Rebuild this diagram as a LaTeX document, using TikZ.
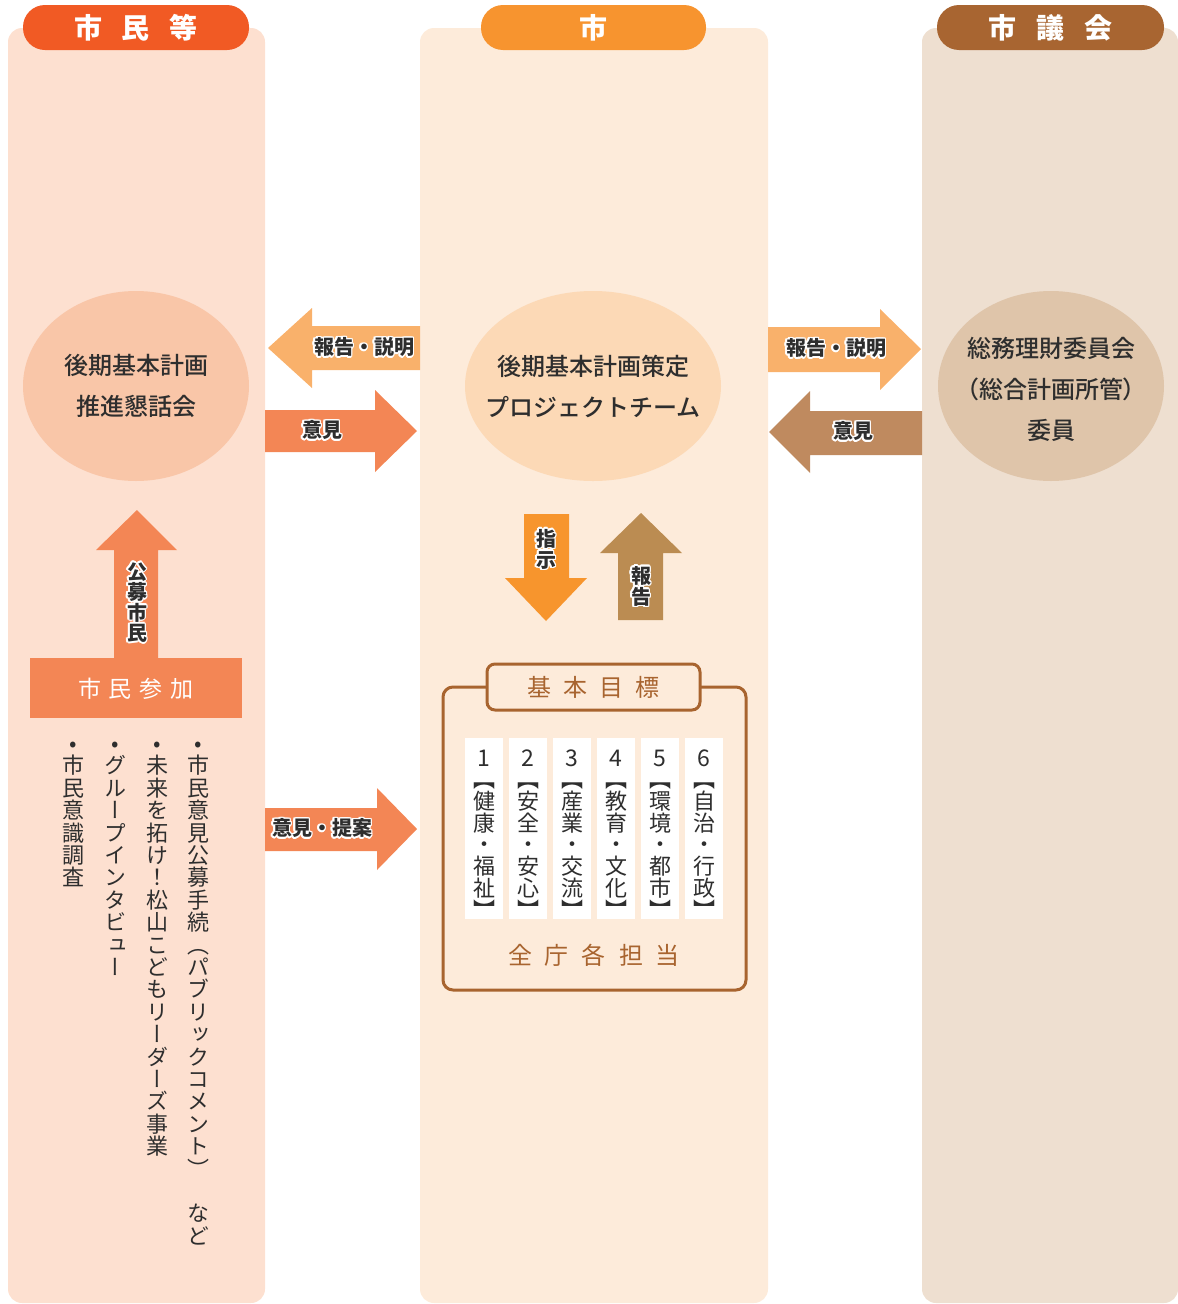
\documentclass[tikz,border=0pt]{standalone}
\usepackage{fontspec}
\setmainfont{Noto Sans CJK JP}
\newfontfamily\mediumfont{Noto Sans CJK JP Medium}
\newfontfamily\tatefont[RawFeature=+vert]{Noto Sans CJK JP}
\usepackage{contour}
\contourlength{1.6pt}
\contournumber{12}
\usetikzlibrary{shapes.geometric}

\definecolor{shiminbg}{HTML}{FDE0D0}
\definecolor{shibg}{HTML}{FDEBDA}
\definecolor{gikaibg}{HTML}{EEDFD0}
\definecolor{shiminhd}{HTML}{F15A24}
\definecolor{shihd}{HTML}{F7942F}
\definecolor{gikaihd}{HTML}{A86531}
\definecolor{shiminoval}{HTML}{F9C6A8}
\definecolor{shioval}{HTML}{FCD9B6}
\definecolor{gikaioval}{HTML}{DFC5AA}
\definecolor{lightarrow}{HTML}{F9B16B}
\definecolor{salmonarrow}{HTML}{F38655}
\definecolor{brownarrow}{HTML}{BF8A5F}
\definecolor{orangearrow}{HTML}{F7952D}
\definecolor{ocherarrow}{HTML}{BB8C52}
\definecolor{boxbrown}{HTML}{A8642F}
\definecolor{ink}{HTML}{2E2E2E}

\newcommand\tatestrut{\vrule height .88em depth .12em width 0pt}
\ExplSyntaxOn
% one character per line, for vertical text
\NewDocumentCommand\tate{O{1.05em}m}{
  \tl_set:Nx \l_tmpa_tl {#2}
  \vbox{\tatefont\baselineskip=#1\lineskiplimit=-\maxdimen
    \tl_map_inline:Nn \l_tmpa_tl {\hbox to 1em{\tatestrut\hss ##1\hss}}}}
% letter spacing
\NewDocumentCommand\spread{mm}{\tl_map_inline:nn {#2}{##1\hspace{#1}}\unskip}
\ExplSyntaxOff

\tikzset{
  column/.style={rounded corners=14pt},
  pill/.style={rounded corners=22pt, minimum height=45pt, inner sep=0pt, text=white,
    font=\fontsize{28}{30}\selectfont\bfseries},
  oval/.style={ellipse, inner sep=0pt, minimum height=190pt},
  ovaltext/.style={inner sep=0pt, align=center, text=ink,
    font=\fontsize{24}{41}\selectfont\mediumfont},
  arrowtext/.style={inner sep=0pt, text=ink, font=\fontsize{20}{22}\selectfont\bfseries},
  listtext/.style={inner sep=0pt, anchor=north, text=ink, font=\fontsize{22}{24}\selectfont},
  goaltext/.style={inner sep=0pt, text=ink, font=\fontsize{22}{24}\selectfont},
}

\begin{document}
\begin{tikzpicture}[x=1pt,y=-1pt]
	\useasboundingbox (0,0) rectangle (1178,1304);

	% columns
	\fill[shiminbg, column] (8,28) rectangle (265,1303);
	\fill[shibg, column] (420,28) rectangle (768,1303);
	\fill[gikaibg, column] (922,28) rectangle (1178,1303);

	% headers
	\node[pill, fill=shiminhd, minimum width=226pt] (hdshimin) at (136,27.5) {\spread{20pt}{市民等}};
	\node[pill, fill=shihd, minimum width=225pt] (hdshi) at (593.5,27.5) {市};
	\node[pill, fill=gikaihd, minimum width=227pt] (hdgikai) at (1050.5,27.5) {\spread{20pt}{市議会}};

	% ovals
	\node[oval, fill=shiminoval, minimum width=226pt] (kondankai) at (136,386) {};
	\node[ovaltext] at (kondankai) {後期基本計画\\推進懇話会};
	\node[oval, fill=shioval, minimum width=256pt] (pt) at (593,386) {};
	\node[ovaltext] at (pt) {後期基本計画策定\\プロジェクトチーム};
	\node[oval, fill=gikaioval, minimum width=226pt] (iinkai) at (1051,386) {};
	\node[ovaltext] at (1051,389) {総務理財委員会\\{\addfontfeatures{RawFeature=+palt}（総合計画所管）}\\委員};

	% arrows between shimin and shi
	\fill[lightarrow] (420,326) -- (312,326) -- (312,308) -- (268,348) -- (312,388) -- (312,370) -- (420,370) -- cycle;
	\node[arrowtext] (hokokuL) at (364,348) {\contour{white}{報告・説明}};
	\fill[salmonarrow] (265,410) -- (375,410) -- (375,390) -- (417,431) -- (375,472) -- (375,452) -- (265,452) -- cycle;
	\node[arrowtext] (ikenL) at (322,431) {\contour{white}{意見}};

	% arrows between shi and gikai
	\fill[lightarrow] (768,327) -- (880,327) -- (880,309) -- (921,349) -- (880,390) -- (880,372) -- (768,372) -- cycle;
	\node[arrowtext] (hokokuR) at (836,349) {\contour{white}{報告・説明}};
	\fill[brownarrow] (922,411) -- (810,411) -- (810,391) -- (769,432) -- (810,473) -- (810,455) -- (922,455) -- cycle;
	\node[arrowtext] (ikenR) at (853,432) {\contour{white}{意見}};

	% shiji / hokoku
	\fill[orangearrow] (524,514) -- (569,514) -- (569,578) -- (587,578) -- (546,621) -- (505,578) -- (524,578) -- cycle;
	\node[arrowtext] (shiji) at (546,550) {\contour{white}{\tate[21pt]{指示}}};
	\fill[ocherarrow] (618,620) -- (663,620) -- (663,553) -- (682,553) -- (641,513) -- (600,553) -- (618,553) -- cycle;
	\node[arrowtext] (hokokuC) at (641,587) {\contour{white}{\tate[21pt]{報告}}};

	% shimin sanka
	\fill[salmonarrow] (114,658) -- (158,658) -- (158,550) -- (177,550) -- (137,510) -- (96,550) -- (114,550) -- cycle;
	\node[arrowtext] (koubo) at (137,603) {\contour{white}{\tate[20.5pt]{公募市民}}};
	\fill[salmonarrow] (30,658) rectangle (242,718);
	\node[inner sep=0pt, text=white, font=\fontsize{23}{25}\selectfont] (sanka) at (136,689) {\spread{8pt}{市民参加}};

	\fill[salmonarrow] (265,808) -- (377,808) -- (377,788) -- (417,829) -- (377,870) -- (377,851) -- (265,851) -- cycle;
	\node[arrowtext] (teian) at (322,829) {\contour{white}{意見・提案}};

	% list
	\node[listtext] (item1) at (198,732) {\tate[22.4pt]{•市民意見公募手続（パブリックコメント）　など}};
	\node[listtext] (item2) at (157,732) {\tate[22.4pt]{•未来を拓け！松山こどもリーダーズ事業}};
	\node[listtext] (item3) at (115,732) {\tate[22.4pt]{•グループインタビュー}};
	\node[listtext] (item4) at (73,732) {\tate[22.4pt]{•市民意識調査}};

	% kihon mokuhyo
	\draw[boxbrown, line width=3pt, rounded corners=10pt] (443,687) rectangle (746,990);
	\node[draw=boxbrown, line width=3pt, fill=shibg, rounded corners=8pt, minimum width=213pt, minimum height=46pt,
		inner sep=0pt, text=boxbrown, font=\fontsize{24}{26}\selectfont] (kihon) at (593.5,687) {\spread{12pt}{基本目標}};
	\foreach \i/\txt in {1/健康・福祉, 2/安全・安心, 3/産業・交流, 4/教育・文化, 5/環境・都市, 6/自治・行政} {
		\fill[white] (465+44*\i-44,738) rectangle ++(38,181);
		\node[goaltext, font=\fontsize{23}{25}\selectfont] (num\i) at (484+44*\i-44,758) {\i};
		\node[goaltext, anchor=north] (goal\i) at (484+44*\i-44,768) {\tate[21.8pt]{【\txt】}};
	}
	\node[inner sep=0pt, text=boxbrown, font=\fontsize{24}{26}\selectfont] (tanto) at (594,955) {\spread{13pt}{全庁各担当}};
\end{tikzpicture}
\end{document}
